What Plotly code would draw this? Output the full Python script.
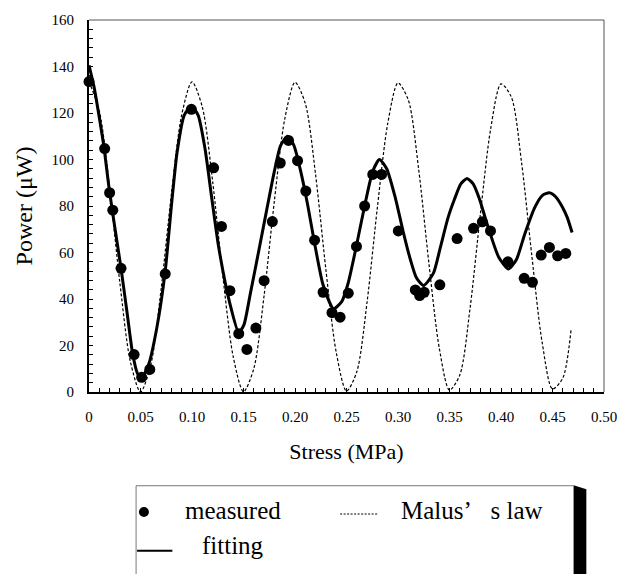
import plotly.graph_objects as go

stress_measured = [0, 0.0152, 0.020, 0.0231, 0.0311, 0.0438, 0.0511, 0.059, 0.074,
                   0.0994, 0.121, 0.1286, 0.1368, 0.1454, 0.1533, 0.162, 0.170, 0.178,
                   0.1857, 0.1937, 0.2025, 0.2105, 0.219, 0.2273, 0.2359, 0.2438, 0.2517,
                   0.2597, 0.2676, 0.2755, 0.2841, 0.3003, 0.3168, 0.321, 0.3254, 0.3406,
                   0.3574, 0.3733, 0.3819, 0.3898, 0.4067, 0.4225, 0.4305, 0.439, 0.447,
                   0.455, 0.4629]
power_measured = [133.5, 104.7, 85.7, 78.2, 53.2, 16.1, 6.3, 9.7, 50.8,
                  121.6, 96.4, 71.2, 43.6, 25.1, 18.3, 27.5, 47.9, 73.3,
                  98.5, 108.2, 99.5, 86.4, 65.3, 42.9, 34.1, 32.2, 42.5,
                  62.6, 80.0, 93.6, 93.6, 69.3, 43.9, 41.5, 42.9, 46.1,
                  66.0, 70.4, 73.2, 69.3, 56.0, 48.9, 47.2, 58.9, 62.2,
                  58.6, 59.6]

# ---- fitting curve ----
fit_x = [0, 0.005, 0.0089, 0.0143, 0.0194, 0.025, 0.0311, 0.037, 0.0422, 0.047, 0.051,
         0.058, 0.066, 0.074, 0.080, 0.0855, 0.0924, 0.0994, 0.106, 0.1125, 0.119, 0.126,
         0.1368, 0.1454, 0.1505, 0.1565, 0.1645, 0.1724, 0.180, 0.186, 0.193, 0.199, 0.2055,
         0.2125, 0.219, 0.2273, 0.2375, 0.2455, 0.2517, 0.2597, 0.2676, 0.2755, 0.282,
         0.289, 0.2977, 0.305, 0.312, 0.318, 0.3248, 0.3343, 0.341, 0.3486, 0.3549, 0.361,
         0.367, 0.373, 0.3791, 0.386, 0.3978, 0.4073, 0.415, 0.4231, 0.4327, 0.440, 0.447,
         0.453, 0.4597, 0.4644, 0.469]
fit_y = [140.5, 131, 121, 106, 88, 71, 53.2, 34, 17, 8, 6,
         12, 28, 52, 80, 103, 119, 123, 119, 105, 84, 62,
         38, 25.5, 29, 42, 60, 78, 95, 106, 110, 106, 95,
         80, 64, 46, 35.8, 39, 47, 63, 80, 95, 100,
         96, 83, 69, 57, 49, 45.8, 51, 62, 75, 83, 89.5,
         91.8, 89.5, 83, 73, 58, 52.9, 57, 68, 79.3, 84.5, 85.7,
         84, 79.5, 75, 68.6]

# ---- Malus' law curve ----
malus_x = [0, 0.01, 0.02, 0.03, 0.04, 0.05, 0.06, 0.07, 0.08, 0.09,
           0.10, 0.11, 0.12, 0.13, 0.14, 0.15, 0.16, 0.17, 0.18, 0.19,
           0.20, 0.21, 0.22, 0.23, 0.24, 0.25, 0.26, 0.27, 0.28, 0.29,
           0.30, 0.31, 0.32, 0.33, 0.34, 0.35, 0.36, 0.37, 0.38, 0.39,
           0.40, 0.41, 0.42, 0.43, 0.44, 0.45, 0.46, 0.468]
malus_y = [133.5, 120.9, 87.9, 46.9, 13.4, 0.0, 11.7, 44.2, 85.1, 119.2,
           133.4, 122.6, 90.7, 49.7, 15.2, 0.1, 10.1, 41.5, 82.3, 117.3,
           133.2, 124.1, 93.4, 52.6, 17.1, 0.4, 8.7, 38.8, 79.5, 115.4,
           132.9, 125.6, 96.0, 55.4, 19.1, 0.8, 7.3, 36.2, 76.6, 113.3,
           132.5, 126.9, 98.6, 58.3, 21.2, 1.3, 6.0, 26.7]

x_tickvals = [0, 0.05, 0.10, 0.15, 0.20, 0.25, 0.30, 0.35, 0.40, 0.45, 0.50]
x_ticktext = ["0", "0.05", "0.10", "0.15", "0.20", "0.25", "0.30", "0.35", "0.40", "0.45", "0.50"]
y_tickvals = [0, 20, 40, 60, 80, 100, 120, 140, 160]

FONT = "Liberation Serif"

fig = go.Figure()
fig.add_trace(go.Scatter(x=malus_x, y=malus_y, mode="lines", name="Malus’ s law",
                         line=dict(color="black", width=1.2, dash="3px,2px",
                                   shape="spline", smoothing=0.8),
                         showlegend=False))
fig.add_trace(go.Scatter(x=fit_x, y=fit_y, mode="lines", name="fitting",
                         line=dict(color="black", width=3, shape="spline", smoothing=0.6),
                         showlegend=False))
fig.add_trace(go.Scatter(x=stress_measured, y=power_measured, mode="markers", name="measured",
                         marker=dict(color="black", size=11), cliponaxis=False,
                         showlegend=False))

axis_common = dict(showgrid=False, zeroline=False, showline=True, linecolor="black",
                   linewidth=2, ticks="inside", ticklen=4, tickcolor="black", tickwidth=1,
                   tickfont=dict(family=FONT, size=15, color="black"))

fig.update_layout(
    width=629, height=574,
    margin=dict(l=89, r=15, t=17, b=182),
    paper_bgcolor="white", plot_bgcolor="white",
    font=dict(family=FONT, color="black"),
    xaxis=dict(range=[0, 0.5], tickvals=x_tickvals, ticktext=x_ticktext,
               minor=dict(dtick=0.01, ticks="inside", ticklen=4, tickcolor="black"),
               ticklabelstandoff=10,
               title=dict(text="Stress (MPa)", font=dict(family=FONT, size=22), standoff=20),
               **axis_common),
    yaxis=dict(range=[0, 160], tickvals=y_tickvals,
               minor=dict(dtick=4, ticks="inside", ticklen=4, tickcolor="black"),
               ticklabelstandoff=10,
               title=dict(text="Power (μW)", font=dict(family=FONT, size=24), standoff=12),
               **axis_common),
)

# plot frame (top and right)
fig.add_shape(type="line", xref="paper", yref="paper", x0=0, x1=1, y0=1, y1=1,
              line=dict(color="#555", width=1))
fig.add_shape(type="line", xref="paper", yref="paper", x0=1, x1=1, y0=0, y1=1,
              line=dict(color="#555", width=1))

# ---- legend box drawn below the chart ----
def px(xp):
    return (xp - 89) / 525.0

def py(yp):
    return (392 - yp) / 375.0

fig.add_shape(type="line", xref="paper", yref="paper", x0=px(137), x1=px(583),
              y0=py(486.5), y1=py(486.5), line=dict(color="#777", width=1))
fig.add_shape(type="line", xref="paper", yref="paper", x0=px(137), x1=px(137),
              y0=py(486.5), y1=py(580), line=dict(color="#777", width=1))
fig.add_shape(type="path", xref="paper", yref="paper",
              path=f"M {px(583)} {py(486)} L {px(596)} {py(490)} L {px(596)} {py(580)} L {px(583)} {py(580)} Z",
              fillcolor="black", line=dict(color="black", width=0))
# marker sample
fig.add_shape(type="circle", xref="paper", yref="paper", xsizemode="pixel", ysizemode="pixel",
              xanchor=px(145), yanchor=py(513), x0=-5, x1=5, y0=-5, y1=5,
              fillcolor="black", line=dict(color="black", width=0))
# dashed sample
fig.add_shape(type="line", xref="paper", yref="paper", x0=px(345), x1=px(383),
              y0=py(515), y1=py(515), line=dict(color="black", width=1, dash="2px,1.5px"))
# solid sample
fig.add_shape(type="line", xref="paper", yref="paper", x0=px(138), x1=px(174),
              y0=py(552), y1=py(552), line=dict(color="black", width=2))

for text, xl, yc in [("measured", 185, 511), ("Malus’\u2002 s law", 405, 511), ("fitting", 202, 547)]:
    fig.add_annotation(text=text, xref="paper", yref="paper", x=px(xl), y=py(yc),
                       xanchor="left", yanchor="middle", showarrow=False,
                       font=dict(family=FONT, size=25, color="black"))

fig.write_html("out.html")
